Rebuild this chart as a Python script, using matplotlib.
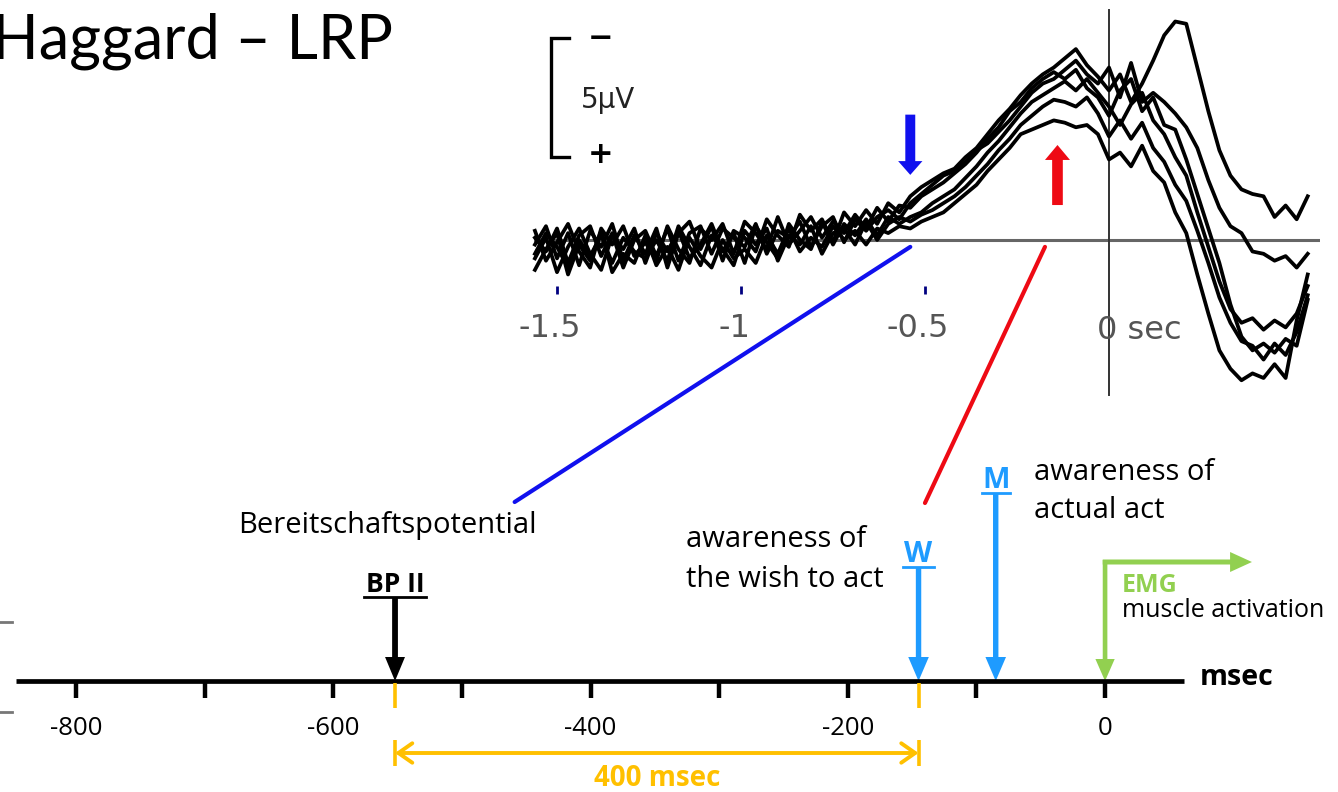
import matplotlib
matplotlib.use('Agg')
import matplotlib.pyplot as plt
from matplotlib.patches import ConnectionPatch

plt.rcParams['font.family'] = ['Open Sans', 'DejaVu Sans']

# ---- EEG readiness potential traces (negativity plotted upward, uV) ----
eeg_time = [
    -1.56, -1.53, -1.50, -1.47, -1.44, -1.41, -1.38, -1.35, -1.32, -1.29,
    -1.26, -1.23, -1.20, -1.17, -1.14, -1.11, -1.08, -1.05, -1.02, -0.99,
    -0.96, -0.93, -0.90, -0.87, -0.84, -0.81, -0.78, -0.75, -0.72, -0.69,
    -0.66, -0.63, -0.60, -0.57, -0.54, -0.51, -0.48, -0.45, -0.42, -0.39,
    -0.36, -0.33, -0.30, -0.27, -0.24, -0.21, -0.18, -0.15, -0.12, -0.09,
    -0.06, -0.03, 0.00, 0.03, 0.06, 0.09, 0.12, 0.15, 0.18, 0.21,
    0.24, 0.27, 0.30, 0.33, 0.36, 0.39, 0.42, 0.45, 0.48, 0.51, 0.54]

trace_a = [
    -0.2, 0.6, -0.8, 0.3, -1.1, 0.4, -0.3, 0.7, -0.9, 0.2,
    -0.6, 0.5, -1.2, 0.3, 0.8, -0.4, 0.6, -0.9, 0.4, 0.1,
    -0.5, 0.9, 0.2, -0.3, 1.1, 0.4, 0.9, -0.1, 1.2, 0.6,
    1.3, 0.7, 1.6, 1.2, 1.9, 2.3, 2.6, 2.9, 3.1, 3.6,
    4.0, 4.6, 5.2, 5.7, 6.3, 6.8, 7.2, 7.5, 7.9, 8.3,
    7.6, 7.1, 6.5, 7.2, 6.0, 6.8, 7.8, 8.9, 9.5, 9.4,
    7.5, 5.6, 3.9, 2.8, 2.2, 2.0, 1.9, 1.0, 1.5, 0.9, 1.9]
trace_b = [
    -1.3, -0.4, 0.3, -1.5, -0.2, -0.9, 0.4, -1.4, -0.6, -1.0,
    0.2, -1.1, -0.3, -1.3, 0.1, -0.7, -1.2, 0.0, -0.8, -0.4,
    -1.0, 0.2, -0.6, 0.5, -0.5, 0.1, -0.3, 0.6, 0.0, 0.4,
    -0.2, 0.5, 0.3, 0.6, 0.5, 0.8, 1.0, 1.2, 1.6, 2.0,
    2.4, 3.0, 3.5, 4.0, 4.6, 4.8, 5.0, 5.2, 5.1, 4.9,
    5.0, 4.6, 3.5, 3.8, 3.2, 4.1, 3.0, 2.5, 1.2, 0.3,
    -1.5, -3.2, -4.8, -5.6, -6.1, -5.8, -6.0, -5.4, -6.0, -3.5, -1.5]
trace_c = [
    0.4, -0.9, -0.1, 0.7, -0.5, -1.2, 0.5, -0.2, 0.6, -0.7,
    -0.1, -0.9, 0.6, -0.4, -1.0, 0.5, 0.0, 0.7, -0.6, 0.8,
    0.3, -0.4, 1.0, -0.2, 0.4, 1.0, 0.1, 0.8, 0.3, 1.1,
    0.5, 1.4, 0.8, 1.5, 1.4, 1.9, 2.2, 2.5, 2.9, 3.3,
    3.8, 4.4, 4.9, 5.6, 6.0, 6.6, 7.0, 7.3, 7.0, 7.4,
    6.6, 6.2, 5.4, 6.5, 7.0, 5.6, 6.2, 5.0, 4.8, 3.5,
    2.0, 0.5, -1.0, -2.8, -4.2, -4.8, -4.5, -4.9, -4.3, -4.6, -2.6]
trace_d = [
    -0.8, 0.1, -1.4, -0.3, 0.5, -0.6, -1.3, 0.2, -0.4, 0.5,
    -1.0, 0.3, -0.5, 0.4, -0.8, -0.2, 0.7, -0.5, 0.3, -1.0,
    0.6, -0.1, -0.8, 0.7, 0.0, -0.4, 0.8, -0.2, 0.7, 0.2,
    0.9, 0.2, 1.0, 0.7, 1.0, 1.2, 1.6, 1.9, 2.2, 2.7,
    3.2, 3.8, 4.3, 4.9, 5.5, 6.0, 6.3, 6.6, 6.9, 6.5,
    7.0, 6.4, 5.8, 5.0, 5.9, 6.4, 5.2, 4.6, 3.6, 2.8,
    1.2, -0.3, -1.8, -3.0, -3.6, -3.4, -3.9, -3.5, -3.8, -3.2, -2.0]
trace_e = [
    0.1, -0.5, 0.5, -1.0, 0.2, 0.6, -0.7, 0.3, -1.2, 0.0,
    0.4, -0.7, 0.5, -0.9, 0.3, 0.6, -0.6, 0.5, 0.1, -0.3,
    0.7, -0.6, 0.4, 0.1, 0.8, -0.3, 0.6, 1.0, -0.1, 0.9,
    0.4, 1.0, 1.3, 0.9, 1.6, 2.0, 2.4, 2.8, 3.0, 3.4,
    3.9, 4.2, 4.7, 5.2, 5.8, 6.4, 6.8, 7.0, 7.4, 7.8,
    7.2, 6.8, 7.5, 6.2, 7.7, 6.0, 6.4, 6.0, 5.5, 4.9,
    4.0, 2.6, 1.4, 0.6, 0.3, -0.5, -0.6, -0.9, -0.7, -1.2, -0.6]
trace_f = [
    -0.6, 0.3, -0.3, -1.2, 0.0, -0.7, 0.2, -1.0, 0.1, -0.5,
    -0.8, 0.0, -0.9, 0.6, -0.3, -1.1, 0.2, -0.4, -1.1, 0.4,
    -0.2, 0.5, -0.9, 0.2, -0.2, 0.6, -0.6, 0.3, 0.5, -0.2,
    0.8, 0.0, 0.7, 1.0, 0.8, 1.1, 1.3, 1.6, 1.9, 2.3,
    2.8, 3.3, 3.9, 4.4, 5.0, 5.4, 5.8, 6.1, 6.0, 5.8,
    6.2, 5.5, 4.5, 5.2, 4.4, 5.1, 4.0, 3.4, 2.4, 1.7,
    0.4, -1.0, -2.5, -3.6, -4.4, -4.6, -5.2, -4.5, -5.0, -4.0, -2.4]
traces = [trace_a, trace_b, trace_c, trace_d, trace_e, trace_f]

eeg_ticks = [-1.5, -1.0, -0.5]
eeg_tick_labels = ['-1.5', '-1', '-0.5']
bp_onset_sec = -0.54     # blue arrow
w_sec = -0.14            # red arrow

# ---- timeline (msec) ----
tl_ticks = [-800, -700, -600, -500, -400, -300, -200, -100, 0]
tl_labels = [-800, -600, -400, -200, 0]
bp2_ms = -552
w_ms = -145
m_ms = -85
emg_ms = 0

BLUE = '#1010EE'
RED = '#EE0A14'
LBLUE = '#1E9BFF'
ORANGE = '#FFC000'
GREEN = '#92D050'
BODY = 21

W_PX, H_PX = 1338, 792
fig = plt.figure(figsize=(W_PX / 100, H_PX / 100), dpi=100)

fig.text(-8 / W_PX, 1 - 58 / H_PX, 'Haggard \u2013 LRP', fontsize=44,
         va='baseline', ha='left', family='Lato')

# EEG panel
ax_e = fig.add_axes([530 / W_PX, 1 - 400 / H_PX, 790 / W_PX, 395 / H_PX])
ax_e.set_xlim(-1.5734, 0.5734)
ax_e.set_ylim(-6.957, 10.217)
ax_e.axis('off')

ax_e.plot([-1.56, 0.568], [0, 0], color='#666666', lw=2.2, zorder=1)
ax_e.plot([0, 0], [10.0, -6.74], color='#333333', lw=1.4, zorder=1)
for tr in traces:
    ax_e.plot(eeg_time, tr, color='black', lw=2.7, zorder=2)

ax_e.vlines(eeg_ticks, -2.35, -2.0, color='#000080', lw=2)
for t, lab in zip(eeg_ticks, eeg_tick_labels):
    ax_e.text(t - 0.019, -3.83, lab, ha='center', va='center', fontsize=23,
              color='#555555', family='DejaVu Sans')
ax_e.text(-0.032, -3.95, '0 sec', ha='left', va='center', fontsize=23,
          color='#555555', family='DejaVu Sans')

# 5 uV scale bar
ax_e.plot([-1.467, -1.516, -1.516, -1.467], [8.78, 8.78, 3.61, 3.61],
          color='black', lw=2.4, solid_joinstyle='miter')
ax_e.text(-1.383, 8.74, '\u2212', ha='center', va='center', fontsize=22,
          fontweight='bold', family='DejaVu Sans')
ax_e.text(-1.383, 3.70, '+', ha='center', va='center', fontsize=22,
          fontweight='bold', family='DejaVu Sans')
ax_e.text(-1.435, 6.1, '5\u00b5V', ha='left', va='center', fontsize=20,
          family='DejaVu Sans', color='#222222')

ax_e.arrow(bp_onset_sec, 5.45, 0, -2.62, width=0.027, head_width=0.066,
           head_length=0.6, length_includes_head=True, color=BLUE, lw=0)
ax_e.arrow(w_sec, 1.52, 0, 2.61, width=0.029, head_width=0.068,
           head_length=0.65, length_includes_head=True, color=RED, lw=0)

# timeline panel
ax_t = fig.add_axes([0, 0, 1, 352 / H_PX])
ax_t.set_xlim(-859.1, 181.1)
ax_t.set_ylim(-111, 241)
ax_t.axis('off')

ax_t.plot([-847, 61], [0, 0], color='black', lw=3.4, solid_capstyle='butt')
ax_t.vlines(tl_ticks, -17, 0, color='black', lw=3.2)
for v in tl_labels:
    ax_t.text(v, -54, str(v), ha='center', va='baseline', fontsize=18.5)
ax_t.text(74, -4, 'msec', ha='left', va='baseline', fontsize=20.5,
          fontweight='bold')

# BP II
ax_t.arrow(bp2_ms, 84, 0, -84, width=4.5, head_width=15.5, head_length=24,
           length_includes_head=True, color='black', lw=0)
ax_t.plot([bp2_ms - 24, bp2_ms + 24], [84, 84], color='black', lw=2)
ax_t.text(bp2_ms, 89, 'BP II', ha='center', va='baseline', fontsize=19,
          fontweight='bold')

# W and M
for x, top, lab, hw in [(w_ms, 114, 'W', 12), (m_ms, 188, 'M', 11)]:
    ax_t.arrow(x, top, 0, -top, width=4.2, head_width=16, head_length=24,
               length_includes_head=True, color=LBLUE, lw=0)
    ax_t.plot([x - hw, x + hw], [top, top], color=LBLUE, lw=2)
    ax_t.text(x, top + 5, lab, ha='center', va='baseline', fontsize=21,
              fontweight='bold', color=LBLUE)

# EMG
ax_t.arrow(emg_ms, 121, 0, -121, width=3.6, head_width=15, head_length=22,
           length_includes_head=True, color=GREEN, lw=0)
ax_t.arrow(emg_ms - 1.8, 119, 116, 0, width=5, head_width=20, head_length=17,
           length_includes_head=True, color=GREEN, lw=0)
ax_t.text(13, 89, 'EMG', ha='left', va='baseline', fontsize=18,
          fontweight='bold', color=GREEN)
ax_t.text(13, 64, 'muscle activation', ha='left', va='baseline', fontsize=18)

# 400 msec interval
ax_t.vlines([bp2_ms, w_ms], -27, -2, color=ORANGE, lw=2.6)
ax_t.vlines([bp2_ms, w_ms], -85, -59, color=ORANGE, lw=2.6)
ax_t.annotate('', xy=(w_ms, -72), xytext=(bp2_ms, -72),
              arrowprops=dict(arrowstyle='<->,head_length=0.5,head_width=0.35',
                              lw=2.8, color=ORANGE, shrinkA=0, shrinkB=0,
                              mutation_scale=20))
ax_t.text((bp2_ms + w_ms) / 2, -105, '400 msec', ha='center', va='baseline',
          fontsize=20, fontweight='bold', color=ORANGE)

# labels
ax_t.text(-674, 148, 'Bereitschaftspotential', ha='left', va='baseline',
          fontsize=BODY)
ax_t.text(-326, 134, 'awareness of', ha='left', va='baseline', fontsize=BODY)
ax_t.text(-326, 94, 'the wish to act', ha='left', va='baseline', fontsize=BODY)
ax_t.text(-55, 201, 'awareness of', ha='left', va='baseline', fontsize=BODY)
ax_t.text(-55, 163, 'actual act', ha='left', va='baseline', fontsize=BODY)

# edge marks of the cropped slide
ax_t.plot([-859, -850], [59, 59], color='#777777', lw=2)
ax_t.plot([-859, -850], [-31, -31], color='#777777', lw=2)

# connectors EEG -> timeline
fig.add_artist(ConnectionPatch(xyA=(bp_onset_sec, -0.3), coordsA=ax_e.transData,
                               xyB=(-459, 179), coordsB=ax_t.transData,
                               color=BLUE, lw=3))
fig.add_artist(ConnectionPatch(xyA=(w_sec - 0.034, -0.3), coordsA=ax_e.transData,
                               xyB=(-140, 178), coordsB=ax_t.transData,
                               color=RED, lw=3))

fig.savefig('out.png', dpi=100)
